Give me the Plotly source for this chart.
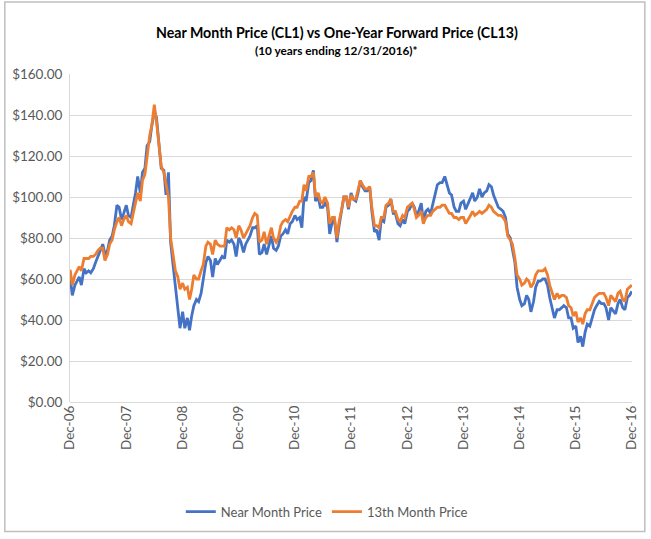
import pandas as pd
import plotly.graph_objects as go

# semi-monthly sample dates (1st and 15th) plus the last trading day
dates = list(pd.date_range("2007-01-01", "2016-12-15", freq="SMS")) + [pd.Timestamp("2016-12-30")]

# Near month (CL1), $/bbl
near_month = [
    61, 52, 57, 59, 61, 57, 65, 63, 64, 63, 65, 68, 71, 74, 77, 72, 74, 79, 81, 86, 96, 95, 89, 92,
    96, 91, 90, 96, 102, 110, 102, 112, 114, 125, 127, 135, 141, 139, 124, 114, 113, 101, 112, 78, 66, 56, 48, 36,
    44, 36, 41, 35, 42, 47, 50, 49, 53, 59, 68, 71, 69, 61, 70, 67, 69, 71, 70, 79, 78, 79, 77, 71,
    80, 78, 73, 77, 79, 81, 85, 85, 86, 72, 73, 77, 72, 76, 81, 75, 74, 76, 81, 82, 84, 82, 87, 88,
    91, 89, 90, 85, 100, 98, 107, 108, 113, 98, 100, 95, 95, 97, 95, 82, 88, 89, 78, 86, 93, 100, 100, 94,
    102, 99, 98, 102, 108, 105, 103, 103, 105, 93, 83, 84, 79, 89, 88, 95, 96, 99, 92, 92, 87, 86, 89, 87,
    93, 94, 97, 95, 91, 93, 97, 88, 93, 94, 92, 97, 101, 106, 107, 107, 110, 106, 102, 101, 95, 93, 93, 97,
    98, 94, 97, 100, 102, 98, 100, 104, 100, 102, 103, 106, 105, 101, 98, 95, 94, 93, 90, 82, 80, 75, 68, 56,
    50, 47, 48, 52, 50, 44, 49, 56, 59, 59, 60, 60, 57, 51, 46, 41, 45, 45, 46, 47, 46, 41, 41, 36,
    37, 29, 32, 27, 34, 38, 37, 41, 45, 47, 49, 48, 48, 46, 40, 46, 44, 43, 48, 50, 46, 45, 51, 52,
    54,
]

# 13th month (CL13), $/bbl
month_13 = [
    64.5, 57, 62, 64, 66, 64, 70, 70, 70, 71, 71, 72, 74, 75, 75, 69, 72, 77, 79, 84, 88, 90, 86, 89,
    91, 88, 87, 92, 98, 102, 98, 108, 111, 119, 130, 135, 145, 137, 125, 115, 112, 107, 100, 80, 70, 64, 61, 55,
    58, 55, 56, 50, 55, 62, 60, 60, 64, 67, 76, 78, 77, 72, 79, 77, 76, 76, 76, 85, 84, 85, 84, 80,
    86, 84, 80, 82, 84, 86, 90, 92, 91, 78, 79, 83, 77, 81, 85, 80, 78, 80, 86, 88, 89, 88, 91, 93,
    95, 95, 98, 98, 106, 103, 110, 110, 112, 100, 102, 98, 97, 100, 97, 87, 90, 90, 80, 88, 94, 100, 100, 95,
    101, 99, 99, 103, 108, 106, 104, 104, 105, 95, 86, 86, 85, 90, 90, 96, 97, 99, 93, 93, 89, 88, 91, 90,
    95, 96, 97, 94, 90, 91, 93, 87, 90, 91, 91, 93, 94, 95, 95, 96, 96, 94, 92, 92, 90, 90, 89, 90,
    90, 87, 89, 91, 93, 91, 92, 93, 92, 93, 94, 96, 95, 93, 92, 91, 91, 90, 88, 81, 79, 77, 70, 62,
    60, 57, 58, 60, 59, 56, 58, 62, 64, 64, 64, 65, 62, 57, 53, 50, 53, 51, 52, 52, 51, 47, 46, 42,
    44, 39, 41, 38, 43, 45, 45, 48, 51, 52, 53, 53, 53, 51, 47, 52, 50, 49, 53, 54, 50, 49, 55, 56,
    57,
]

tick_dates = [f"{y}-12-31" for y in range(2006, 2017)]

BLUE = "#4472C4"
ORANGE = "#ED7D31"
GRID = "#D9D9D9"
TEXT = "#595959"

W, H = 651, 539
L, R, T, B = 67, 15, 74, 133
pw, ph = W - L - R, H - T - B

fig = go.Figure()
fig.add_scatter(x=dates, y=near_month, mode="lines", name="Near Month Price",
                line=dict(color=BLUE, width=2.8))
fig.add_scatter(x=dates, y=month_13, mode="lines", name="13th Month Price",
                line=dict(color=ORANGE, width=2.8))

fig.update_layout(
    width=W, height=H,
    margin=dict(l=L, r=R, t=T, b=B),
    paper_bgcolor="white", plot_bgcolor="white",
    font=dict(family="Lato, Open Sans, sans-serif", size=13.5, color=TEXT),
    showlegend=True,
    legend=dict(orientation="h", x=(327 - L) / pw, xanchor="center",
                y=(406 - 517) / ph, yanchor="middle",
                font=dict(size=13, color=TEXT), traceorder="normal"),
    annotations=[
        dict(text="<b>Near Month Price (CL1) vs One-Year Forward Price (CL13)</b>",
             x=(337 - L) / pw, y=(406 - 32) / ph, xref="paper", yref="paper",
             xanchor="center", yanchor="middle",
             showarrow=False, font=dict(size=14.2, color="#000000")),
        dict(text="<b>(10 years ending 12/31/2016)*</b>",
             x=(337 - L) / pw, y=(406 - 50) / ph, xref="paper", yref="paper",
             xanchor="center", yanchor="middle",
             showarrow=False, font=dict(size=11.8, color="#000000")),
    ],
    shapes=[dict(type="rect", xref="paper", yref="paper",
                 x0=-(L - 1) / pw, x1=1 + (R - 2) / pw,
                 y0=-(B - 2) / ph, y1=1 + (T - 1) / ph,
                 line=dict(color="#BFBFBF", width=1.5), fillcolor="rgba(0,0,0,0)", layer="below")],
)

fig.update_xaxes(
    range=["2006-12-31", "2016-12-31"],
    tickvals=tick_dates, tickformat="%b-%y", tickangle=-90,
    showgrid=False, showline=False, zeroline=False,
    tickfont=dict(size=13.5, color=TEXT),
)
fig.update_yaxes(
    range=[0, 160], dtick=20, tickformat="$.2f",
    showgrid=True, gridcolor=GRID, gridwidth=1,
    showline=True, linecolor=GRID, linewidth=1,
    zeroline=True, zerolinecolor=GRID, zerolinewidth=1,
    tickfont=dict(size=13.5, color=TEXT), ticks="", ticklabelstandoff=4,
)

fig.write_html("out.html", config={"displayModeBar": False},
               post_script="document.body.style.margin='0';")
